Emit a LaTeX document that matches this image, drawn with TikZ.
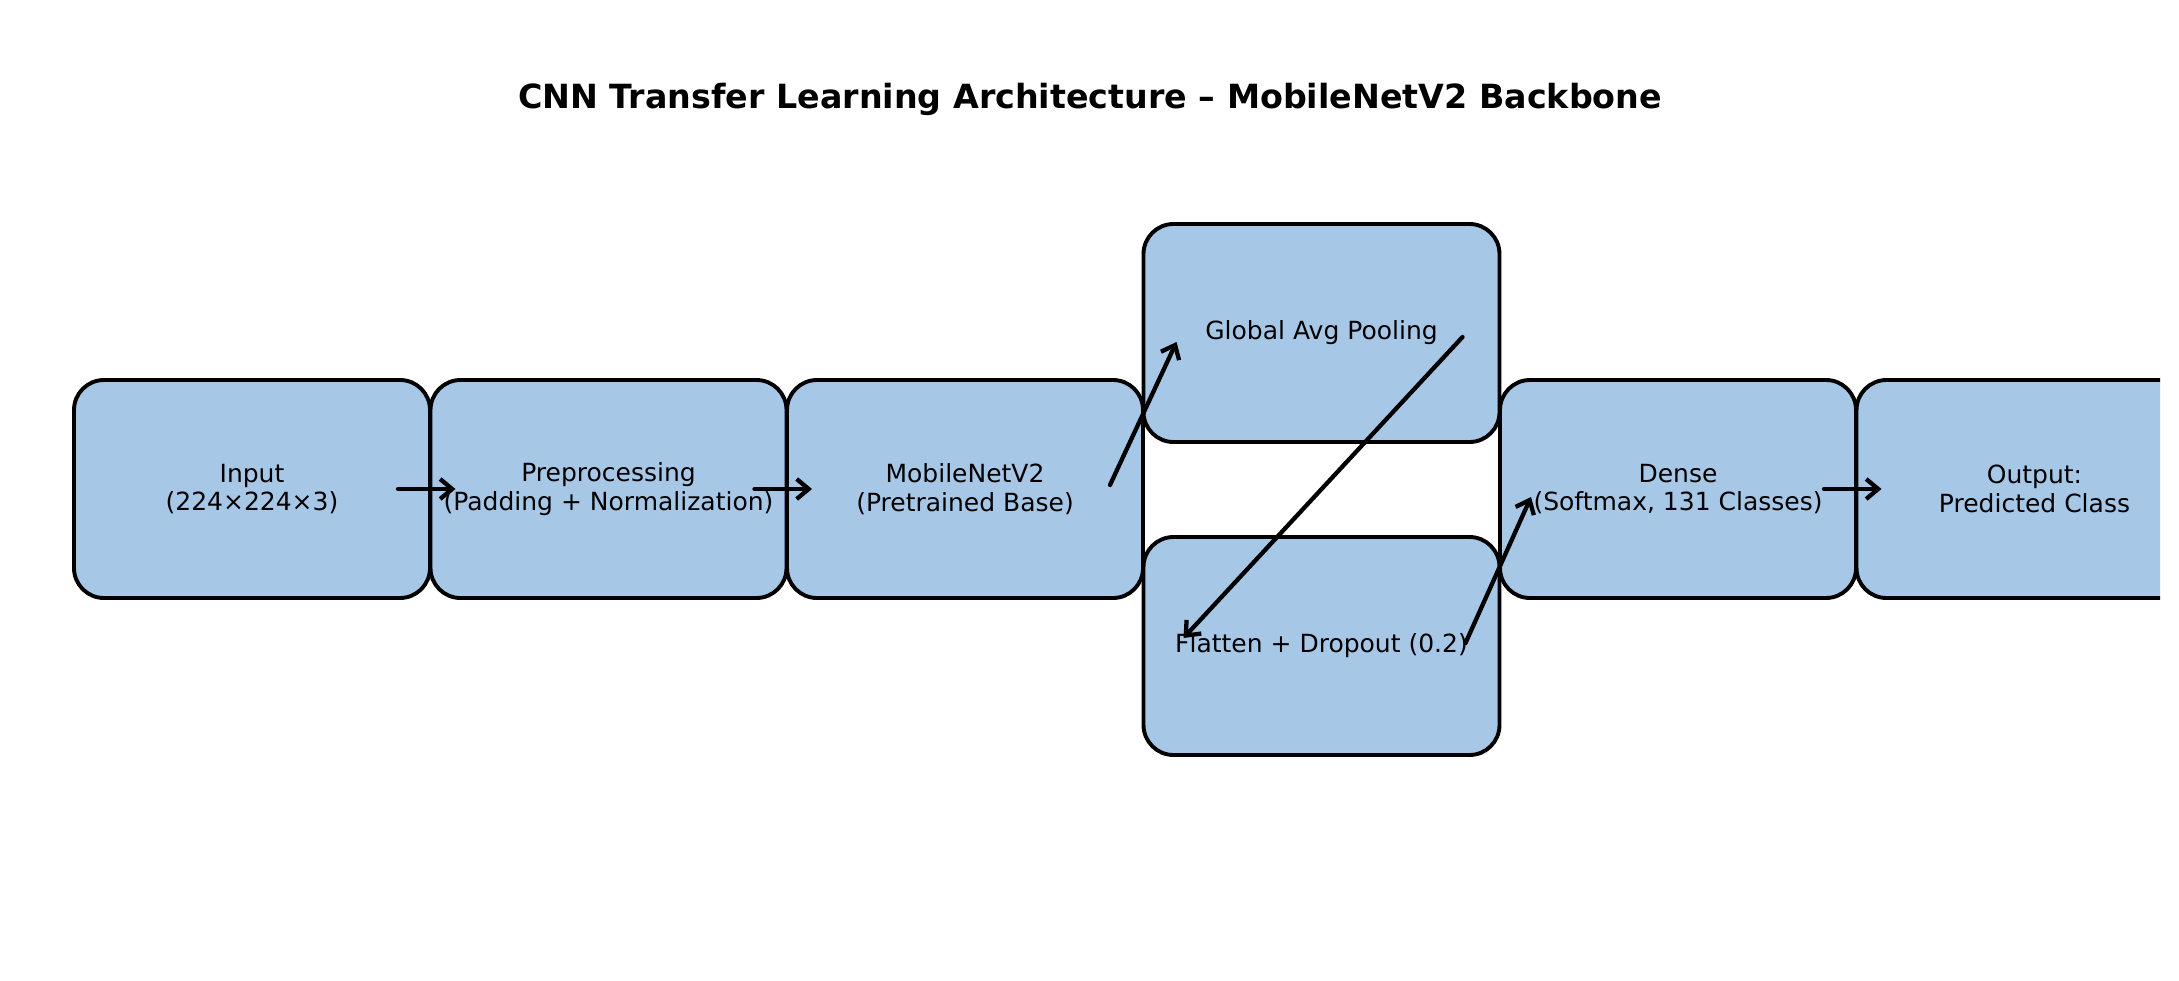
\documentclass[tikz,border=0pt]{standalone}
\usepackage{fontspec}
\setmainfont{DejaVu Sans}
\usetikzlibrary{calc,arrows.meta}
\definecolor{boxblue}{RGB}{167,199,231}
\tikzset{
  layer/.style={draw=black, fill=boxblue, line width=3.9pt, rounded corners=30pt,
    minimum width=356pt, minimum height=218pt, inner sep=0pt, align=center,
    font=\fontsize{25}{28.5}\selectfont},
  flow/.style={line width=4.3pt, line cap=round, -{Straight Barb[length=12pt,width=20pt]}},
  titletext/.style={font=\bfseries\fontsize{33.3}{40}\selectfont}
}
\begin{document}
\begin{tikzpicture}[x=1pt,y=-1pt]
\useasboundingbox (0,0) rectangle (2179,980);
\fill[white] (0,0) rectangle (2179,980);
\node[titletext] (title) at (1090,99) {CNN Transfer Learning Architecture – MobileNetV2 Backbone};
\begin{scope}
\clip (0,0) rectangle (2160,980);
\node[layer] (input) at (252,489) {Input\\(224×224×3)};
\node[layer] (prep) at (608.5,489) {Preprocessing\\(Padding + Normalization)};
\node[layer] (mnet) at (965,489) {MobileNetV2\\(Pretrained Base)};
\node[layer] (gap) at (1321.5,333) {Global Avg Pooling};
\node[layer] (flat) at (1321.5,646) {Flatten + Dropout (0.2)};
\node[layer] (dense) at (1678,489) {Dense\\(Softmax, 131 Classes)};
\node[layer] (out) at (2034.5,489) {Output:\\Predicted Class};
\draw[flow] ($(input.center)+(146,0)$) -- ($(prep.center)+(-153,0)$);
\draw[flow] ($(prep.center)+(146,0)$) -- ($(mnet.center)+(-153,0)$);
\draw[flow] ($(mnet.center)+(145,-4)$) -- ($(gap.center)+(-145,9)$);
\draw[flow] ($(gap.center)+(141,4)$) -- ($(flat.center)+(-138,-8)$);
\draw[flow] ($(flat.center)+(144,-3)$) -- ($(dense.center)+(-147,8)$);
\draw[flow] ($(dense.center)+(146,0)$) -- ($(out.center)+(-153,0)$);
\end{scope}
\end{tikzpicture}
\end{document}
